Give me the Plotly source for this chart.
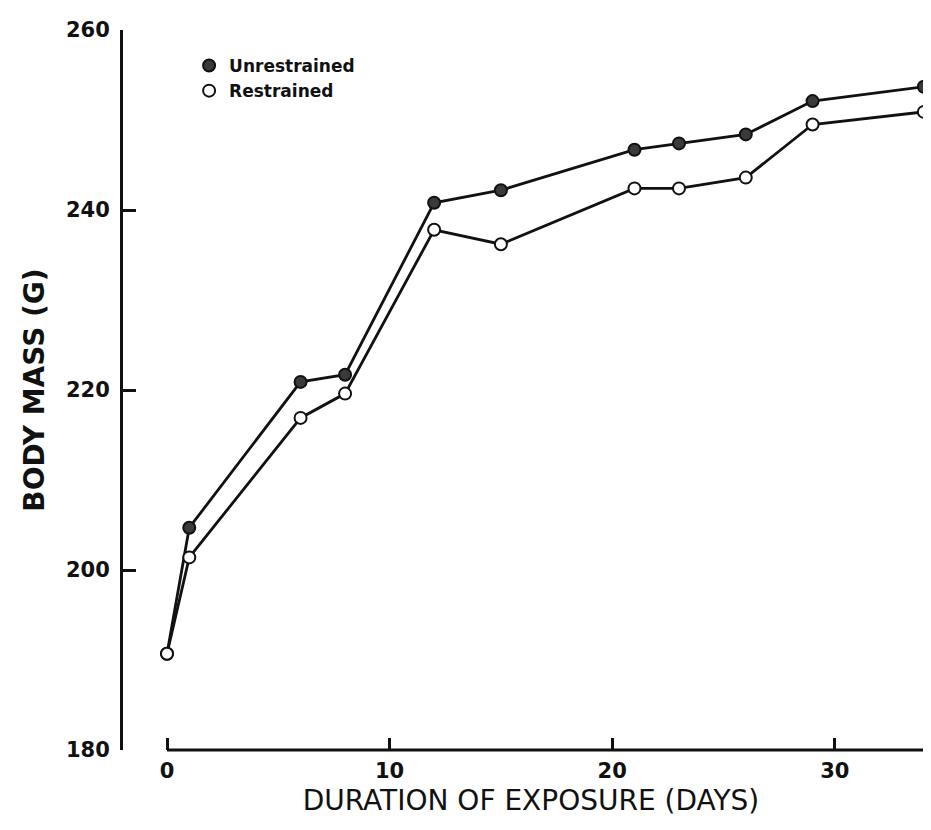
import plotly.graph_objects as go

days = [0, 1, 6, 8, 12, 15, 21, 23, 26, 29, 34]
unrestrained = [190.7, 204.7, 220.9, 221.7, 240.8, 242.2, 246.7, 247.4, 248.4, 252.1, 253.7]
restrained = [190.7, 201.4, 216.9, 219.6, 237.8, 236.2, 242.4, 242.4, 243.6, 249.5, 250.9]
x_ticks = [0, 10, 20, 30]
y_ticks = [180, 200, 220, 240, 260]

FONT = "DejaVu Sans"
INK = "#111111"

fig = go.Figure()
fig.add_trace(go.Scatter(
    x=days, y=unrestrained, mode="lines+markers", name="Unrestrained", showlegend=False,
    line=dict(color=INK, width=2.8),
    marker=dict(symbol="circle", size=12, color="#3a3a3a", line=dict(color=INK, width=2)),
))
fig.add_trace(go.Scatter(
    x=days, y=restrained, mode="lines+markers", name="Restrained", showlegend=False,
    line=dict(color=INK, width=2.8),
    marker=dict(symbol="circle", size=12, color="white", line=dict(color=INK, width=2)),
))
# legend entries (markers only, as in the reference)
fig.add_trace(go.Scatter(
    x=[None], y=[None], mode="markers", name="Unrestrained",
    marker=dict(symbol="circle", size=11, color="#3a3a3a", line=dict(color=INK, width=2)),
))
fig.add_trace(go.Scatter(
    x=[None], y=[None], mode="markers", name="Restrained",
    marker=dict(symbol="circle", size=11, color="white", line=dict(color=INK, width=2)),
))

fig.update_layout(
    width=931, height=830,
    margin=dict(l=115, r=0, t=22, b=88),
    paper_bgcolor="white", plot_bgcolor="white",
    font=dict(family=FONT, color=INK),
    legend=dict(x=0.081, y=0.975, xanchor="left", yanchor="top",
                font=dict(size=17, family=FONT, color=INK, weight="bold"),
                bgcolor="rgba(0,0,0,0)", itemsizing="constant", tracegroupgap=0),
    xaxis=dict(
        range=[-1.977, 34.68], showgrid=False, zeroline=False, showline=False,
        tickmode="array", tickvals=x_ticks, ticks="inside", ticklen=12, tickwidth=2.5,
        tickcolor=INK, tickfont=dict(size=21, family=FONT, color=INK, weight="bold"),
        ticklabelstandoff=6,
        title=dict(text="DURATION OF EXPOSURE (DAYS)", font=dict(size=28, family=FONT, color=INK), standoff=8),
    ),
    yaxis=dict(
        range=[180, 260], showgrid=False, zeroline=False, showline=True, linewidth=3, linecolor=INK,
        tickmode="array", tickvals=y_ticks, ticks="inside", ticklen=13, tickwidth=2.5,
        tickcolor=INK, tickfont=dict(size=21, family=FONT, color=INK, weight="bold"),
        ticklabelstandoff=6,
        title=dict(text="BODY MASS (G)", font=dict(size=28, family=FONT, color=INK, weight="bold"), standoff=14),
    ),
    shapes=[dict(type="line", xref="x", yref="paper", x0=0, x1=34.68, y0=0, y1=0,
                 line=dict(color=INK, width=3))],
)

fig.write_html("out.html")
